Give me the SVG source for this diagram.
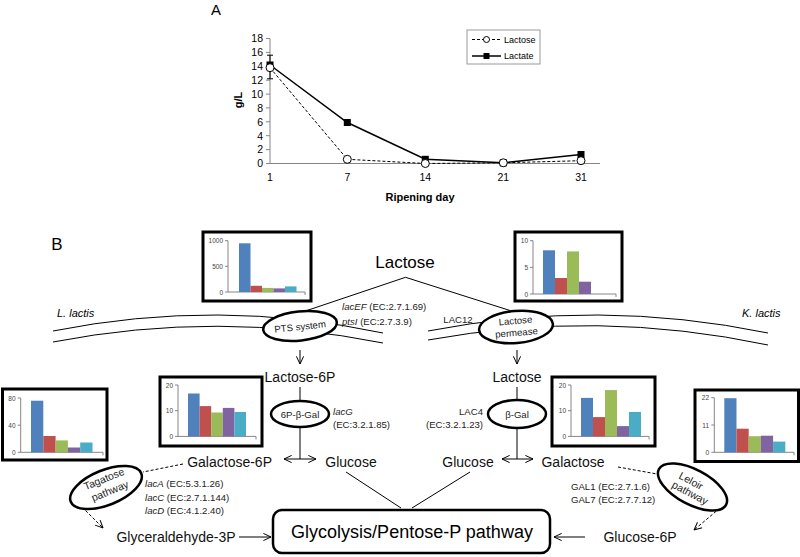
<svg xmlns="http://www.w3.org/2000/svg" width="800" height="557" viewBox="0 0 800 557">
<defs>
<style>
.t{font-family:"Liberation Sans",Arial,sans-serif;fill:#000}
.ax{stroke:#868686;stroke-width:1;fill:none}
.tk{font-family:"Liberation Sans",Arial,sans-serif;font-size:10.5px;fill:#000}
.lbl{font-family:"Liberation Sans",Arial,sans-serif;font-size:14px;fill:#111}
.sm{font-family:"Liberation Sans",Arial,sans-serif;font-size:9.6px;fill:#222}
.pw{font-family:"Liberation Sans",Arial,sans-serif;font-size:10.5px;fill:#222}
.bl{font-family:"Liberation Sans",Arial,sans-serif;font-size:6.5px;fill:#444}
.box{fill:#fff;stroke:#000;stroke-width:3}
.ell{fill:#fff;stroke:#000;stroke-width:2.5}
.ln{stroke:#000;stroke-width:1;fill:none}
.dash{stroke:#000;stroke-width:1;fill:none;stroke-dasharray:3,2}
.mem{stroke:#000;stroke-width:1;fill:none}
.b1{fill:#4F81BD}.b2{fill:#C0504D}.b3{fill:#9BBB59}.b4{fill:#8064A2}.b5{fill:#4BACC6}
</style>
<marker id="arr" viewBox="0 0 10 10" refX="9.5" refY="5" markerWidth="9" markerHeight="9" markerUnits="userSpaceOnUse" orient="auto-start-reverse">
<path d="M1,1 L9.5,5 L1,9" fill="none" stroke="#000" stroke-width="1.1"/>
</marker>
</defs>
<rect width="800" height="557" fill="#fff"/>

<!-- Panel A -->
<g id="panelA">
<text class="t" x="216" y="15" font-size="15" text-anchor="middle">A</text>
<path class="ax" d="M270,38.5 V163.5 M266,38.5 H270 M266,52.4 H270 M266,66.3 H270 M266,80.2 H270 M266,94.1 H270 M266,107.9 H270 M266,121.8 H270 M266,135.7 H270 M266,149.6 H270 M266,163.5 H270 M270,163.5 H600"/>
<g class="tk" text-anchor="end">
<text x="263" y="42">18</text><text x="263" y="56">16</text><text x="263" y="70">14</text><text x="263" y="84">12</text><text x="263" y="98">10</text><text x="263" y="111.5">8</text><text x="263" y="125.5">6</text><text x="263" y="139.5">4</text><text x="263" y="153">2</text><text x="263" y="167">0</text>
</g>
<g class="tk" text-anchor="middle">
<text x="270" y="181">1</text><text x="347.3" y="181">7</text><text x="425.3" y="181">14</text><text x="503.3" y="181">21</text><text x="581" y="181">31</text>
</g>
<text class="t" x="420" y="201" font-size="11" font-weight="bold" text-anchor="middle">Ripening day</text>
<text class="t" font-size="11" font-weight="bold" text-anchor="middle" transform="translate(242,100) rotate(-90)">g/L</text>
<path d="M270,55.2 V78.8 M267,55.2 H273 M267,78.8 H273" stroke="#000" stroke-width="1"/>
<polyline points="270,65 347.3,122.5 425.3,159.3 503.3,162.8 581,154.5" fill="none" stroke="#000" stroke-width="1.5"/>
<polyline points="270,67.7 347.3,159.3 425.3,163.5 503.3,162.8 581,160.7" fill="none" stroke="#000" stroke-width="1" stroke-dasharray="3,2"/>
<g fill="#000">
<rect x="266.5" y="61.5" width="7" height="7"/><rect x="343.8" y="119" width="7" height="7"/><rect x="421.8" y="155.8" width="7" height="7"/><rect x="499.8" y="159.3" width="7" height="7"/><rect x="577.5" y="151" width="7" height="7"/>
</g>
<g fill="#fff" stroke="#000" stroke-width="1">
<circle cx="270" cy="67.7" r="4"/><circle cx="347.3" cy="159.3" r="4"/><circle cx="425.3" cy="163.5" r="4"/><circle cx="503.3" cy="162.8" r="4"/><circle cx="581" cy="160.7" r="4"/>
</g>
<rect x="467" y="30" width="73" height="34" fill="#fff" stroke="#999" stroke-width="1"/>
<line x1="472" y1="39.5" x2="501" y2="39.5" stroke="#000" stroke-width="1" stroke-dasharray="3,2"/>
<circle cx="486.5" cy="39.5" r="3" fill="#fff" stroke="#000"/>
<line x1="472" y1="56" x2="501" y2="56" stroke="#000" stroke-width="1.5"/>
<rect x="483.5" y="53" width="6" height="6" fill="#000"/>
<text class="t" x="504" y="42.5" font-size="9">Lactose</text>
<text class="t" x="504" y="59" font-size="9">Lactate</text>
</g>

<!-- Panel B -->
<text class="t" x="57" y="250" font-size="17" text-anchor="middle">B</text>

<!-- membranes -->
<g id="membranes">
<path class="mem" d="M53,331 Q218,298 383,333"/>
<path class="mem" d="M53,342 Q218,310 383,343"/>
<path class="mem" d="M428,331 Q598,298 768,333"/>
<path class="mem" d="M428,340 Q598,309 768,345"/>
<text class="t" x="57" y="317" font-size="11" font-style="italic">L. lactis</text>
<text class="t" x="742" y="317" font-size="11" font-style="italic">K. lactis</text>
</g>

<!-- connectors -->
<g id="connectors">
<polyline class="ln" points="304,311.5 405.5,277.3 510,310.5"/>
<line class="ln" x1="300" y1="350" x2="300" y2="364" marker-end="url(#arr)"/>
<line class="ln" x1="517" y1="350" x2="517" y2="364" marker-end="url(#arr)"/>
<line class="ln" x1="300" y1="387" x2="300" y2="401"/>
<line class="ln" x1="517" y1="387" x2="517" y2="401"/>
<line class="ln" x1="300" y1="427" x2="300" y2="459"/>
<line class="ln" x1="517" y1="427" x2="517" y2="459"/>
<line class="ln" x1="284" y1="459" x2="316" y2="459" marker-start="url(#arr)" marker-end="url(#arr)"/>
<line class="ln" x1="502" y1="459" x2="533" y2="459" marker-start="url(#arr)" marker-end="url(#arr)"/>
<line class="ln" x1="346" y1="472" x2="401" y2="508"/>
<line class="ln" x1="470" y1="472" x2="412" y2="508"/>
<line class="ln" x1="239" y1="537" x2="271" y2="537" marker-end="url(#arr)"/>
<line class="ln" x1="585" y1="537" x2="554" y2="537" marker-end="url(#arr)"/>
<line class="dash" x1="183" y1="464" x2="143" y2="472"/>
<line class="dash" x1="75" y1="500" x2="103" y2="528" marker-end="url(#arr)"/>
<line class="dash" x1="618" y1="467" x2="657" y2="474"/>
<line class="dash" x1="720" y1="508" x2="694" y2="530" marker-end="url(#arr)"/>
</g>

<!-- nodes -->
<g id="lactose"><text class="t" x="405" y="268" font-size="17" text-anchor="middle">Lactose</text></g>

<g id="pts">
<ellipse class="ell" cx="300" cy="326" rx="37" ry="14.5" transform="rotate(-6 300 326)"/>
<text class="sm" x="300" y="330" font-size="10" text-anchor="middle" transform="rotate(-6 300 326)">PTS system</text>
</g>
<g id="permease">
<ellipse class="ell" cx="516" cy="327" rx="37" ry="16" transform="rotate(-5 516 327)"/>
<text class="sm" x="516" y="324" font-size="10" text-anchor="middle" transform="rotate(-5 516 327)">Lactose</text>
<text class="sm" x="516" y="336" font-size="10" text-anchor="middle" transform="rotate(-5 516 327)">permease</text>
</g>
<g id="pts-genes" class="sm">
<text x="342" y="310"><tspan font-style="italic">lacEF</tspan> (EC:2.7.1.69)</text>
<text x="342" y="324.5"><tspan font-style="italic">ptsI</tspan> (EC:2.7.3.9)</text>
<text x="458" y="322.5" text-anchor="middle">LAC12</text>
</g>

<g id="lactose6p"><text class="lbl" x="300" y="382" text-anchor="middle">Lactose-6P</text></g>
<g id="lactose-in"><text class="lbl" x="517" y="382" text-anchor="middle">Lactose</text></g>

<g id="pbgal">
<ellipse class="ell" cx="300" cy="414" rx="29" ry="13"/>
<text class="sm" x="300" y="417.5" text-anchor="middle">6P-β-Gal</text>
<text class="sm" x="333" y="415" font-style="italic">lacG</text>
<text class="sm" x="333" y="428">(EC:3.2.1.85)</text>
</g>
<g id="bgal">
<ellipse class="ell" cx="517" cy="414" rx="29" ry="14"/>
<text class="sm" x="517" y="417.5" text-anchor="middle">β-Gal</text>
<text class="sm" x="483" y="415" text-anchor="end">LAC4</text>
<text class="sm" x="483" y="428" text-anchor="end">(EC:3.2.1.23)</text>
</g>

<g id="galactose6p"><text class="lbl" x="272" y="467" text-anchor="end">Galactose-6P</text></g>
<g id="glucose-l"><text class="lbl" x="351" y="467" text-anchor="middle">Glucose</text></g>
<g id="glucose-r"><text class="lbl" x="468" y="467" text-anchor="middle">Glucose</text></g>
<g id="galactose"><text class="lbl" x="573" y="467" text-anchor="middle">Galactose</text></g>

<g id="tagatose">
<ellipse class="ell" cx="106" cy="487.5" rx="38" ry="17.5" transform="rotate(-22 106 487.5)"/>
<text class="pw" x="104" y="482.5" text-anchor="middle" transform="rotate(-22 104 479)">Tagatose</text>
<text class="pw" x="110" y="494.5" text-anchor="middle" transform="rotate(-22 110 491)">pathway</text>
<text class="sm" x="145" y="487"><tspan font-style="italic">lacA</tspan> (EC:5.3.1.26)</text>
<text class="sm" x="145" y="500.5"><tspan font-style="italic">lacC</tspan> (EC:2.7.1.144)</text>
<text class="sm" x="145" y="514"><tspan font-style="italic">lacD</tspan> (EC:4.1.2.40)</text>
</g>
<g id="leloir">
<ellipse class="ell" cx="692.5" cy="487" rx="38" ry="17.5" transform="rotate(28 692.5 487)"/>
<text class="pw" x="691" y="484.5" text-anchor="middle" transform="rotate(28 691 481)">Leloir</text>
<text class="pw" x="690" y="496.5" text-anchor="middle" transform="rotate(28 690 493)">pathway</text>
<text class="sm" x="571" y="489.5">GAL1 (EC:2.7.1.6)</text>
<text class="sm" x="571" y="503">GAL7 (EC:2.7.7.12)</text>
</g>

<g id="glyceraldehyde"><text class="lbl" x="176" y="542" text-anchor="middle">Glyceraldehyde-3P</text></g>
<g id="glucose6p"><text class="lbl" x="640" y="542" text-anchor="middle">Glucose-6P</text></g>
<g id="glycolysis">
<rect x="273" y="510" width="277" height="43" rx="9" fill="#fff" stroke="#000" stroke-width="2.5"/>
<text class="t" x="412" y="538" font-size="18" text-anchor="middle">Glycolysis/Pentose-P pathway</text>
</g>

<!-- bar charts -->
<g id="chart-top-left">
<rect class="box" x="203" y="232" width="108" height="69"/>
<path class="ax" d="M228,240.7 V292 M225,240.7 H228 M225,266.3 H228 M225,292 H228 M228,292 H305 V295"/>
<g class="bl" text-anchor="end"><text x="223" y="243">1000</text><text x="223" y="268.5">500</text><text x="223" y="294.5">0</text></g>
<rect class="b1" x="239" y="243.3" width="11.5" height="48.7"/>
<rect class="b2" x="250.5" y="285.8" width="11.5" height="6.2"/>
<rect class="b3" x="262" y="287.9" width="11.5" height="4.1"/>
<rect class="b4" x="273.5" y="288.4" width="11.5" height="3.6"/>
<rect class="b5" x="285" y="286.4" width="11.5" height="5.6"/>
</g>
<g id="chart-top-right">
<rect class="box" x="515" y="232" width="107" height="69"/>
<path class="ax" d="M533,240.7 V294 M530,240.7 H533 M530,267.4 H533 M530,294 H533 M533,294 H616 V297"/>
<g class="bl" text-anchor="end"><text x="528" y="243">10</text><text x="528" y="269.5">5</text><text x="528" y="296.5">0</text></g>
<rect class="b1" x="543" y="250.3" width="12" height="43.7"/>
<rect class="b2" x="555" y="278" width="12" height="16"/>
<rect class="b3" x="567" y="251.4" width="12" height="42.6"/>
<rect class="b4" x="579" y="281.7" width="12" height="12.3"/>
</g>
<g id="chart-mid-left">
<rect class="box" x="160" y="377" width="102" height="69"/>
<path class="ax" d="M178,385 V436.4 M175,385 H178 M175,410.7 H178 M175,436.4 H178 M178,436.4 H256 V439.4"/>
<g class="bl" text-anchor="end"><text x="173" y="387.5">20</text><text x="173" y="413">10</text><text x="173" y="439">0</text></g>
<rect class="b1" x="188" y="393.5" width="11.6" height="42.9"/>
<rect class="b2" x="199.6" y="406.1" width="11.6" height="30.3"/>
<rect class="b3" x="211.2" y="412.5" width="11.6" height="23.9"/>
<rect class="b4" x="222.8" y="407.9" width="11.6" height="28.5"/>
<rect class="b5" x="234.4" y="412" width="11.6" height="24.4"/>
</g>
<g id="chart-mid-right">
<rect class="box" x="552" y="377" width="103" height="69"/>
<path class="ax" d="M571,385 V436.4 M568,385 H571 M568,410.7 H571 M568,436.4 H571 M571,436.4 H649 V439.4"/>
<g class="bl" text-anchor="end"><text x="566" y="387.5">20</text><text x="566" y="413">10</text><text x="566" y="439">0</text></g>
<rect class="b1" x="581" y="397.9" width="12" height="38.5"/>
<rect class="b2" x="593" y="417.1" width="12" height="19.3"/>
<rect class="b3" x="605" y="390.1" width="12" height="46.3"/>
<rect class="b4" x="617" y="426.1" width="12" height="10.3"/>
<rect class="b5" x="629" y="412" width="12" height="24.4"/>
</g>
<g id="chart-bottom-left">
<rect class="box" x="2.5" y="389" width="104.5" height="71"/>
<path class="ax" d="M20.7,398 V452.3 M17.7,398 H20.7 M17.7,425.2 H20.7 M17.7,452.3 H20.7 M20.7,452.3 H103 V455.3"/>
<g class="bl" text-anchor="end"><text x="15.5" y="400.5">80</text><text x="15.5" y="427.7">40</text><text x="15.5" y="454.8">0</text></g>
<rect class="b1" x="31" y="400.7" width="12.3" height="51.6"/>
<rect class="b2" x="43.3" y="436" width="12.3" height="16.3"/>
<rect class="b3" x="55.6" y="440.4" width="12.3" height="11.9"/>
<rect class="b4" x="67.9" y="447.5" width="12.3" height="4.8"/>
<rect class="b5" x="80.2" y="442.5" width="12.3" height="9.8"/>
</g>
<g id="chart-bottom-right">
<rect class="box" x="695" y="390" width="103.5" height="71.5"/>
<path class="ax" d="M714.3,397.7 V452.3 M711.3,397.7 H714.3 M711.3,425 H714.3 M711.3,452.3 H714.3 M714.3,452.3 H794 V455.3"/>
<g class="bl" text-anchor="end"><text x="709" y="400.2">22</text><text x="709" y="427.5">11</text><text x="709" y="454.8">0</text></g>
<rect class="b1" x="724.3" y="398.2" width="12.2" height="54.1"/>
<rect class="b2" x="736.5" y="428.7" width="12.2" height="23.6"/>
<rect class="b3" x="748.7" y="436.2" width="12.2" height="16.1"/>
<rect class="b4" x="760.9" y="435.7" width="12.2" height="16.6"/>
<rect class="b5" x="773.1" y="441.6" width="12.2" height="10.7"/>
</g>
</svg>
